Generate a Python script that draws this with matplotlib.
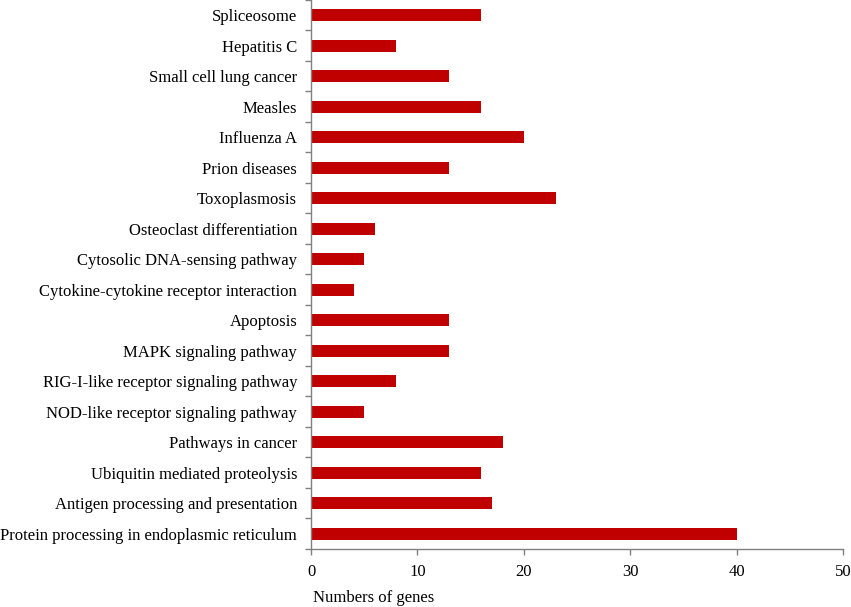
import numpy as np
import matplotlib.pyplot as plt
from matplotlib.ticker import FixedLocator

plt.rcParams['font.family'] = ['Liberation Serif', 'DejaVu Serif']

pathways = ['Protein processing in endoplasmic reticulum',
            'Antigen processing and presentation',
            'Ubiquitin mediated proteolysis',
            'Pathways in cancer',
            'NOD-like receptor signaling pathway',
            'RIG-I-like receptor signaling pathway',
            'MAPK signaling pathway',
            'Apoptosis',
            'Cytokine-cytokine receptor interaction',
            'Cytosolic DNA-sensing pathway',
            'Osteoclast differentiation',
            'Toxoplasmosis',
            'Prion diseases',
            'Influenza A',
            'Measles',
            'Small cell lung cancer',
            'Hepatitis C',
            'Spliceosome']
gene_counts = [40, 17, 16, 18, 5, 8, 13, 13, 4, 5, 6, 23, 13, 20, 16, 13, 8, 16]

fig = plt.figure(figsize=(8.51, 6.07), dpi=100)
ax = fig.add_axes([0.3655, 0.0956, 0.9906 - 0.3655, 1.0 - 0.0956])

y = np.arange(len(pathways))
ax.barh(y, gene_counts, height=0.4, color='#C00000')

ax.set_xlim(0, 50)
ax.set_ylim(-0.5, len(pathways) - 0.5)
ax.set_xticks(np.arange(0, 51, 10))
ax.set_yticks(y)
ax.set_yticklabels(pathways)
ax.yaxis.set_minor_locator(FixedLocator(np.arange(-0.5, len(pathways), 1.0)))

ax.tick_params(axis='y', which='major', length=0, pad=10, labelsize=12)
ax.tick_params(axis='y', which='minor', length=4, color='#808080', width=1)
ax.tick_params(axis='x', length=4, color='#808080', width=1, pad=7, labelsize=12)

for s in ['top', 'right']:
    ax.spines[s].set_visible(False)
for s in ['left', 'bottom']:
    ax.spines[s].set_color('#808080')
    ax.spines[s].set_linewidth(1)

fig.text(313 / 851, 1 - 598 / 607, 'Numbers of genes', fontsize=12,
         ha='left', va='center')

fig.savefig('out.png', dpi=100)
